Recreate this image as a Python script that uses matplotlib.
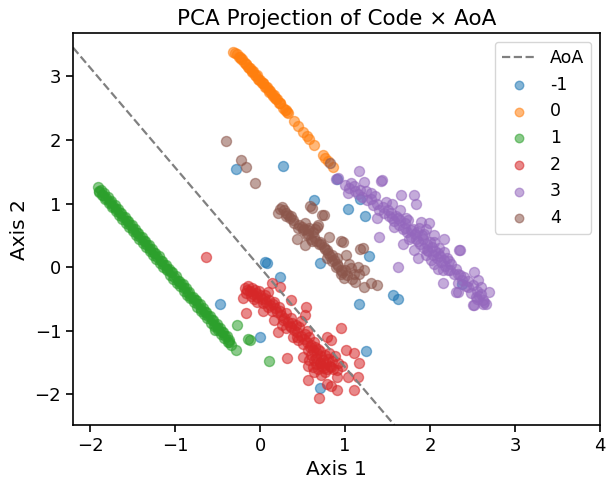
import numpy as np
import matplotlib
matplotlib.use("Agg")
import matplotlib.pyplot as plt

# cluster -1 (noise)
blue_x = [-0.28, 0.27, 0.63, 1.03, 1.24, 0.08, 0.06, 0.24, 0.70, 1.28, 1.17, 1.57, 1.62,
          0.00, 1.25, 0.71, -0.47, 2.38, 0.90, 1.18]
blue_y = [1.55, 1.59, 1.06, 0.91, 0.81, 0.07, 0.09, -0.15, 0.06, 0.17, -0.57, -0.44, -0.50,
          -1.10, -1.32, -1.90, -0.57, -0.27, 1.38, 1.07]

# cluster 0
orange_x = [-0.32, -0.27, -0.24, -0.21, -0.19, -0.16, -0.14, -0.12, -0.10, -0.08, -0.06, -0.04,
            -0.02, 0.00, 0.02, 0.04, 0.06, 0.08, 0.10, 0.12, 0.14, 0.16, 0.18, 0.20, 0.22, 0.24,
            0.27, 0.30, 0.33, 0.40, 0.45, 0.51, 0.55, 0.58, 0.63, 0.74, 0.77, 0.80, 0.86,
            -0.30, -0.25, -0.22, -0.17, -0.13, -0.09, -0.05, -0.01, 0.03, 0.07, 0.11, 0.15,
            0.19, 0.23, 0.29, 0.32]
orange_y = [3.39, 3.36, 3.30, 3.28, 3.23, 3.20, 3.15, 3.14, 3.09, 3.08, 3.03, 3.02, 2.96, 2.95,
            2.90, 2.89, 2.84, 2.83, 2.78, 2.77, 2.72, 2.71, 2.66, 2.64, 2.59, 2.58, 2.51, 2.48,
            2.42, 2.30, 2.22, 2.12, 2.06, 2.01, 1.93, 1.77, 1.72, 1.67, 1.57,
            3.37, 3.31, 3.28, 3.19, 3.13, 3.07, 3.01, 2.95, 2.89, 2.83, 2.76, 2.70, 2.64, 2.58,
            2.48, 2.44]

# cluster 1
green_x = [-1.91, -1.89, -1.87, -1.85, -1.83, -1.81, -1.79, -1.77, -1.75, -1.73, -1.71, -1.69,
           -1.67, -1.65, -1.63, -1.61, -1.59, -1.57, -1.55, -1.53, -1.51, -1.49, -1.47, -1.45,
           -1.43, -1.41, -1.39, -1.37, -1.35, -1.33, -1.31, -1.29, -1.27, -1.25, -1.23, -1.21,
           -1.19, -1.17, -1.15, -1.13, -1.11, -1.09, -1.07, -1.05, -1.03, -1.01, -0.99, -0.97,
           -0.95, -0.93, -0.91, -0.89, -0.87, -0.85, -0.83, -0.81, -0.79, -0.77, -0.75, -0.73,
           -0.71, -0.69, -0.67, -0.65, -0.63, -0.61, -0.59, -0.57, -0.55, -0.53, -0.51, -0.49,
           -0.47, -0.45, -0.43, -0.41, -0.39, -0.37, -0.36,
           -1.90, -1.86, -1.82, -1.78, -1.74, -1.70, -1.66, -1.62, -1.58, -1.54, -1.50, -1.46,
           -1.42, -1.38, -1.34, -1.30, -1.26, -1.22, -1.18, -1.14, -1.10, -1.06, -1.02, -0.98,
           -0.94, -0.90, -0.86, -0.82, -0.78, -0.74, -0.70, -0.66, -0.62, -0.58, -0.54, -0.50,
           -0.46, -0.42, -0.38, -0.34,
           -0.27, -0.12, -0.14, -0.28, 0.10, -0.53]
green_y = [1.26, 1.20, 1.21, 1.14, 1.16, 1.09, 1.10, 1.03, 1.04, 0.97, 0.98, 0.91, 0.92, 0.85,
           0.86, 0.79, 0.79, 0.73, 0.73, 0.66, 0.67, 0.60, 0.60, 0.54, 0.54, 0.48, 0.48, 0.41,
           0.42, 0.35, 0.35, 0.29, 0.29, 0.23, 0.23, 0.16, 0.17, 0.10, 0.10, 0.04, 0.04, -0.02,
           -0.02, -0.08, -0.08, -0.15, -0.14, -0.21, -0.21, -0.27, -0.27, -0.33, -0.33, -0.40,
           -0.39, -0.46, -0.46, -0.52, -0.52, -0.58, -0.58, -0.65, -0.64, -0.71, -0.71, -0.77,
           -0.77, -0.83, -0.83, -0.90, -0.89, -0.96, -0.96, -1.02, -1.02, -1.08, -1.08, -1.15,
           -1.18,
           1.19, 1.13, 1.07, 1.01, 0.94, 0.88, 0.82, 0.76, 0.69, 0.63, 0.57, 0.51, 0.45, 0.38,
           0.32, 0.26, 0.20, 0.13, 0.07, 0.01, -0.05, -0.12, -0.18, -0.24, -0.30, -0.37, -0.43,
           -0.49, -0.55, -0.62, -0.68, -0.74, -0.80, -0.87, -0.93, -0.99, -1.05, -1.11, -1.18,
           -1.22,
           -0.90, -1.14, -1.12, -1.30, -1.47, -0.99]

# cluster 2
red_x = [-0.63, 0.14, 0.24, -0.20, -0.17, 0.09, 0.36, 0.54, 0.53, 0.21, 0.32, 0.50, 0.95, 0.83,
         1.01, 1.11, 1.16, 1.03, 1.15, 0.91, 0.56, 0.79, 0.90, 1.10, 0.69, 0.83,
         -0.18, -0.15, -0.12, -0.10, -0.08, -0.05, -0.03, 0.00, 0.02, 0.05, 0.07, 0.10, -0.14,
         -0.06, 0.03, 0.12, 0.15, 0.18, 0.20, 0.14, 0.22, 0.25, 0.28, 0.30, 0.33, 0.35, 0.38,
         0.40, 0.44, 0.46, 0.48, 0.52, 0.55, 0.58, 0.60, 0.62, 0.65, 0.67, 0.70, 0.72, 0.74,
         0.76, 0.78, 0.80, 0.82, 0.66, 0.70, 0.60, 0.75, 0.85, 0.68, 0.58, 0.88, 0.64, 0.55,
         0.43, 0.79, 0.36, 0.27, 0.16, 0.04, -0.04, 0.39, 0.59, 0.71, 0.83, 0.91, 0.62,
         -0.16, -0.11, -0.07, -0.01, 0.06, 0.09, 0.17, 0.23, 0.26, 0.31, 0.37, 0.42, 0.45, 0.50,
         0.53, 0.57, 0.63, 0.68, 0.73, 0.77, 0.81, 0.86, 0.63, 0.72, 0.66, 0.79, 0.92, 0.48,
         0.96, 0.57]
red_y = [0.16, -0.25, -0.31, -0.49, -0.72, -0.39, -0.52, -0.63, -0.75, -1.02, -1.42, -1.41,
         -0.96, -1.15, -1.30, -1.35, -1.51, -1.73, -1.73, -1.73, -1.78, -1.83, -1.93, -1.93,
         -2.06, -1.86,
         -0.32, -0.35, -0.38, -0.33, -0.42, -0.40, -0.46, -0.44, -0.50, -0.48, -0.54, -0.52,
         -0.30, -0.36, -0.56, -0.60, -0.58, -0.64, -0.70, -0.68, -0.62, -0.75, -0.80, -0.72,
         -0.86, -0.92, -0.88, -0.98, -1.02, -0.94, -1.08, -1.12, -1.18, -1.10, -1.22, -1.30,
         -1.26, -1.35, -1.32, -1.40, -1.45, -1.38, -1.50, -1.44, -1.55, -1.42, -1.50, -1.38,
         -1.58, -1.48, -1.60, -1.45, -1.40, -1.18, -1.00, -1.10, -1.10, -0.94, -0.83, -0.83,
         -0.68, -0.55, -1.10, -1.25, -1.51, -1.57, -1.62, -1.57,
         -0.40, -0.45, -0.50, -0.38, -0.43, -0.62, -0.55, -0.68, -0.90, -0.95, -0.80, -0.90,
         -1.15, -1.20, -1.05, -1.30, -1.45, -1.28, -1.55, -1.65, -1.35, -1.60, -1.65, -1.70,
         -1.52, -1.60, -1.50, -0.85, -1.55, -1.55]

# cluster 3
purple_x = [0.92, 0.89, 1.16, 1.07, 1.22, 1.42, 1.03, 1.18, 1.30, 1.38, 1.48, 1.66, 1.81, 1.83,
            1.38, 1.54, 1.62, 1.74, 1.89, 1.99, 1.58, 1.78, 1.93, 1.40, 1.68, 1.86, 2.05, 2.17,
            1.81, 1.97, 2.09, 2.35, 1.86, 2.01, 2.17, 1.62, 2.09, 2.21, 2.33, 2.15, 2.33, 2.52,
            2.57, 2.45, 2.60, 2.33, 2.54, 2.64, 2.52, 1.44, 2.31, 2.51, 2.69, 2.66, 2.34,
            1.05, 1.12, 1.20, 1.26, 1.33, 1.40, 1.46, 1.52, 1.58, 1.63, 1.68, 1.73, 1.78, 1.83,
            1.88, 1.93, 1.98, 2.03, 2.08, 2.13, 2.18, 2.23, 2.28, 2.38, 2.45, 2.50, 2.55, 2.58,
            2.62, 1.60, 1.70, 1.90, 2.00, 1.85, 2.10, 2.20, 1.75, 1.95, 2.05, 2.15,
            1.00, 1.10, 1.15, 1.25, 1.30, 1.35, 1.45, 1.50, 1.55, 1.65, 1.70, 1.72, 1.80, 1.82,
            1.87, 1.92, 1.96, 2.02, 2.06, 2.12, 2.16, 2.22, 2.25, 2.30, 2.35, 2.40, 2.42, 2.48,
            2.55, 2.60, 2.62, 1.95, 2.05, 1.65, 1.55]
purple_y = [1.40, 1.38, 1.51, 1.32, 1.34, 1.35, 1.16, 1.21, 1.16, 1.00, 1.02, 1.13, 1.13, 1.00,
            0.77, 0.85, 0.77, 0.74, 0.71, 0.69, 0.63, 0.58, 0.53, 0.47, 0.37, 0.42, 0.39, 0.45,
            0.27, 0.27, 0.22, 0.27, 0.14, 0.11, 0.11, 0.00, -0.02, -0.05, -0.10, -0.25, -0.25,
            -0.08, -0.20, -0.31, -0.31, -0.39, -0.47, -0.55, -0.60, 1.37, -0.39, -0.60, -0.39,
            -0.57, 0.27,
            1.25, 1.20, 1.10, 1.05, 0.98, 0.90, 0.86, 0.80, 0.72, 0.66, 0.60, 0.55, 0.48, 0.44,
            0.37, 0.31, 0.25, 0.20, 0.14, 0.08, 0.02, -0.04, -0.10, -0.20, -0.22, -0.28, -0.38,
            -0.45, -0.52, 0.80, 0.70, 0.50, 0.40, 0.55, 0.30, 0.15, 0.45, 0.20, 0.05, -0.05,
            1.30, 1.28, 1.15, 1.20, 1.08, 1.12, 0.95, 0.90, 0.78, 0.75, 0.62, 0.78, 0.60, 0.52,
            0.62, 0.45, 0.36, 0.32, 0.25, 0.18, 0.24, 0.10, 0.05, -0.02, -0.12, -0.15, -0.30,
            -0.40, -0.50, -0.42, -0.58, 0.60, 0.50, 0.90, 1.00]

# cluster 4
brown_x = [-0.40, -0.22, -0.17, -0.06, 0.82, 0.26, 0.21, 0.33, 0.39, 0.59, 0.61, 0.73, 0.49,
           0.53, 0.56, 0.43, 0.68, 0.61, 0.69, 0.81, 0.53, 0.79, 0.85, 0.95, 0.98, 0.91, 1.01,
           0.79, 0.89, 0.95, 0.99, 1.07, 1.15, 1.21, 1.11, 1.12, 1.22, 1.30, 1.38, 1.16, 0.67,
           0.75, 1.18, 1.22, 0.45, 0.50, 0.55, 0.60, 0.62, 0.70, 0.75, 0.80, 0.85, 0.90, 0.95,
           1.00, 0.28, 0.30, 0.35, 1.05,
           0.24, 0.30, 0.36, 0.40, 0.46, 0.52, 0.57, 0.63, 0.66, 0.72, 0.76, 0.82, 0.87, 0.92,
           0.97, 1.02, 1.08, 0.65, 0.58]
brown_y = [1.99, 1.68, 1.57, 1.33, 1.64, 0.95, 0.86, 0.82, 0.74, 0.97, 0.93, 0.82, 0.63, 0.69,
           0.58, 0.45, 0.66, 0.42, 0.37, 0.47, 0.35, 0.27, 0.19, 0.42, 0.40, 0.14, 0.19, 0.14,
           0.00, -0.05, -0.17, -0.01, 0.00, 0.30, -0.10, -0.23, -0.31, -0.24, -0.28, -0.10,
           0.64, 0.82, 0.28, -0.05, 0.62, 0.58, 0.50, 0.45, 0.55, 0.40, 0.32, 0.22, 0.10, 0.05,
           -0.10, -0.05, 0.90, 0.80, 0.78, 0.05,
           0.92, 0.86, 0.80, 0.70, 0.66, 0.60, 0.52, 0.48, 0.42, 0.36, 0.28, 0.18, 0.12, 0.02,
           -0.08, -0.12, -0.18, 0.60, 0.62]

aoa_slope = -1.57

clusters = [("-1", blue_x, blue_y, "tab:blue"),
            ("0", orange_x, orange_y, "tab:orange"),
            ("1", green_x, green_y, "tab:green"),
            ("2", red_x, red_y, "tab:red"),
            ("3", purple_x, purple_y, "tab:purple"),
            ("4", brown_x, brown_y, "tab:brown")]

fig = plt.figure(figsize=(6.1, 4.79), dpi=100)
ax = fig.add_axes([0.1197, 0.1127, 0.864, 0.818])

ax.axline((0, 0), slope=aoa_slope, linestyle="--", color="gray", linewidth=1.6, label="AoA")
for name, xs, ys, col in clusters:
    ax.scatter(xs, ys, s=52, color=col, alpha=0.55, label=name)

ax.set_xlim(-2.2, 4.0)
ax.set_ylim(-2.48, 3.68)
ax.set_xticks([-2, -1, 0, 1, 2, 3, 4])
ax.set_yticks([-2, -1, 0, 1, 2, 3])
ax.tick_params(labelsize=13, width=1.2, length=5)
for sp in ax.spines.values():
    sp.set_linewidth(1.2)
ax.set_xlabel("Axis 1", fontsize=14.5)
ax.set_ylabel("Axis 2", fontsize=14.5)
ax.set_title("PCA Projection of Code × AoA", fontsize=15.5)
ax.legend(loc="upper right", fontsize=12.5, markerscale=0.85)

fig.savefig("out.png", dpi=100)
